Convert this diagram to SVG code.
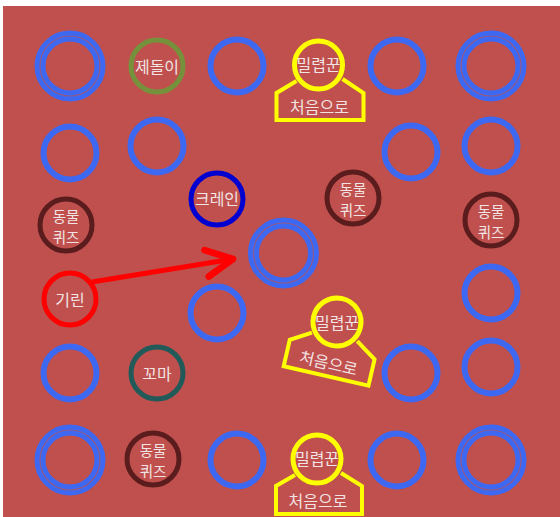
<svg xmlns="http://www.w3.org/2000/svg" width="560" height="517" viewBox="0 0 560 517">
<defs>
<style>
.b{fill:none;stroke:#3d68f2;stroke-width:6}
.o{fill:none;stroke:#3d68f2;stroke-width:11}
.g{fill:none;stroke:#8f5a8c;stroke-width:1.2}
.t{font-family:"Noto Sans CJK KR","Noto Sans",sans-serif;font-size:16px;fill:#f1e4e4;text-anchor:middle;dominant-baseline:central}
.s{font-size:14.5px}
.y{fill:#c0504d;stroke:#ffff00;stroke-width:5}
.yp{fill:none;stroke:#ffff00;stroke-width:4;stroke-linejoin:miter}
.q{fill:none;stroke:#5a1c1c;stroke-width:5}
</style>
<marker id="ah" markerUnits="userSpaceOnUse" markerWidth="40" markerHeight="40" viewBox="-25 -15 30 30" refX="0" refY="0" orient="auto">
<path d="M-20,-10 L0,0 L-20,10" fill="none" stroke="#ff0000" stroke-width="5" stroke-linecap="round" stroke-linejoin="round"/>
</marker>
</defs>
<rect x="0" y="0" width="560" height="517" fill="#ffffff"/>
<rect x="3" y="6" width="557" height="511" fill="#c0504d"/>

<g id="connectors">
<line x1="92" y1="282" x2="233" y2="259" stroke="#ff0000" stroke-width="5" marker-end="url(#ah)"/>
</g>

<g id="d1"><circle cx="70" cy="66" r="30" class="o"/><circle cx="70" cy="66" r="30" class="g"/></g>
<g id="d2"><circle cx="491" cy="66" r="30" class="o"/><circle cx="491" cy="66" r="30" class="g"/></g>
<g id="d3"><circle cx="70" cy="460" r="30" class="o"/><circle cx="70" cy="460" r="30" class="g"/></g>
<g id="d4"><circle cx="491" cy="460" r="30" class="o"/><circle cx="491" cy="460" r="30" class="g"/></g>
<g id="center"><circle cx="283.5" cy="253" r="30" class="o"/><circle cx="283.5" cy="253" r="30" class="g"/></g>

<g id="b1"><circle cx="237" cy="66" r="26.5" class="b"/></g>
<g id="b2"><circle cx="397" cy="66" r="26.5" class="b"/></g>
<g id="b3"><circle cx="70" cy="153" r="26.5" class="b"/></g>
<g id="b4"><circle cx="157" cy="146" r="26.5" class="b"/></g>
<g id="b5"><circle cx="411" cy="152" r="26.5" class="b"/></g>
<g id="b6"><circle cx="491" cy="146" r="26.5" class="b"/></g>
<g id="b7"><circle cx="491" cy="293" r="26.5" class="b"/></g>
<g id="b8"><circle cx="217" cy="313" r="26.5" class="b"/></g>
<g id="b9"><circle cx="70" cy="373" r="26.5" class="b"/></g>
<g id="b10"><circle cx="411" cy="373" r="26.5" class="b"/></g>
<g id="b11"><circle cx="491" cy="367" r="26.5" class="b"/></g>
<g id="b12"><circle cx="237" cy="460" r="26.5" class="b"/></g>
<g id="b13"><circle cx="397" cy="460" r="26.5" class="b"/></g>

<g id="jedori"><circle cx="157" cy="66" r="26" fill="none" stroke="#76913c" stroke-width="5"/><text x="157" y="66" class="t">제돌이</text></g>
<g id="crane"><circle cx="217" cy="199" r="26" fill="none" stroke="#0000d0" stroke-width="5"/><text x="217" y="198" class="t">크레인</text></g>
<g id="giraffe"><circle cx="70" cy="299" r="26" fill="none" stroke="#ff0000" stroke-width="5"/><text x="70" y="299" class="t">기린</text></g>
<g id="kkoma"><circle cx="157" cy="373" r="26" fill="none" stroke="#225a5a" stroke-width="5"/><text x="157" y="373" class="t">꼬마</text></g>

<g id="quiz1"><circle cx="66" cy="225" r="26" class="q"/><text class="t s"><tspan x="66" y="214.5">동물</tspan><tspan x="66" y="235.5">퀴즈</tspan></text></g>
<g id="quiz2"><circle cx="353" cy="198" r="26" class="q"/><text class="t s"><tspan x="353" y="187.5">동물</tspan><tspan x="353" y="208.5">퀴즈</tspan></text></g>
<g id="quiz3"><circle cx="491" cy="220" r="26" class="q"/><text class="t s"><tspan x="491" y="209.5">동물</tspan><tspan x="491" y="230.5">퀴즈</tspan></text></g>
<g id="quiz4"><circle cx="153" cy="459" r="26" class="q"/><text class="t s"><tspan x="153" y="448.5">동물</tspan><tspan x="153" y="469.5">퀴즈</tspan></text></g>

<g id="poacher1" transform="translate(318.5,65)">
<polyline points="-22,16 -42,28 -42,55 45,55 45,28 24,14" class="yp"/>
<circle cx="0" cy="0" r="24" class="y"/>
<text x="0" y="-1" class="t">밀렵꾼</text>
<text x="1" y="41" class="t">처음으로</text>
</g>
<g id="poacher2" transform="translate(337,322)">
<g transform="rotate(13)">
<polyline points="-22,16 -42,28 -42,55 45,55 45,28 24,14" class="yp"/>
<circle cx="0" cy="0" r="24" class="y"/>
<text x="1" y="41" class="t">처음으로</text>
</g>
<text x="0" y="0" class="t">밀렵꾼</text>
</g>
<g id="poacher3" transform="translate(317,459)">
<polyline points="-22,16 -41,27 -41,55 45,55 45,27 24,14" class="yp"/>
<circle cx="0" cy="0" r="24" class="y"/>
<text x="0" y="-1" class="t">밀렵꾼</text>
<text x="1" y="41" class="t">처음으로</text>
</g>
</svg>
